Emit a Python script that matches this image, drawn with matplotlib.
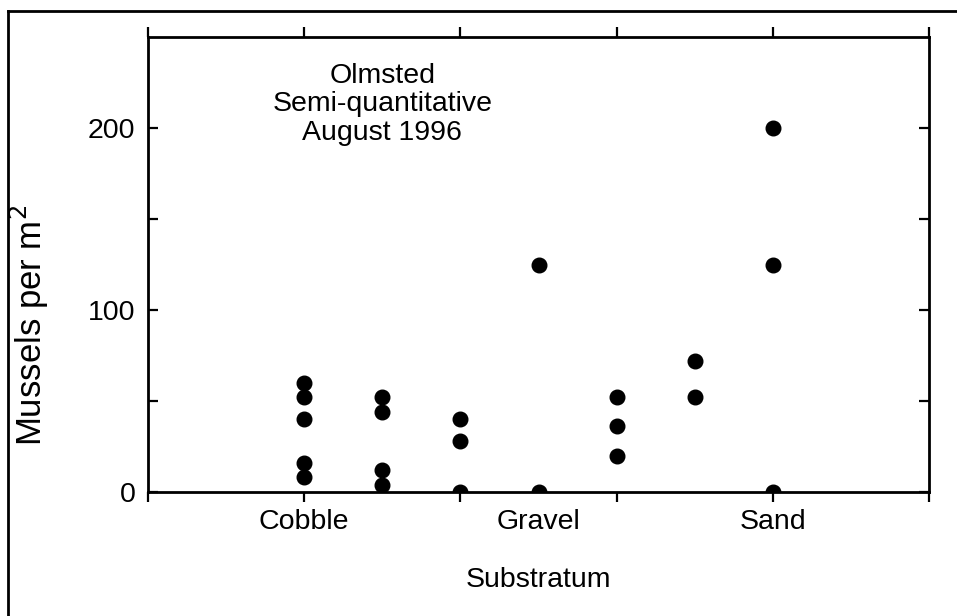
import matplotlib
matplotlib.use("Agg")
import matplotlib.pyplot as plt
from matplotlib.lines import Line2D

# positions along the x axis (0..10) and counts per sample
cobble_x = [2, 2, 2, 2, 2, 3, 3, 3, 3, 4, 4, 4]
cobble_y = [60, 52, 40, 16, 8, 52, 44, 12, 4, 40, 28, 0]
gravel_x = [5, 5, 6, 6, 6, 7, 7]
gravel_y = [125, 0, 52, 36, 20, 72, 52]
sand_x = [8, 8, 8]
sand_y = [200, 125, 0]

category_pos = [2, 5, 8]
category_labels = ["Cobble", "Gravel", "Sand"]
x_ticks = [0, 2, 4, 6, 8, 10]
y_major = [0, 100, 200]
y_minor = [50, 150]

plt.rcParams['font.family'] = ['Liberation Sans', 'DejaVu Sans']
plt.rcParams['font.size'] = 20.5

fig = plt.figure(figsize=(9.57, 6.16), dpi=100)
ax = fig.add_axes([148/957, 1 - 492/616, (929 - 148)/957, (492 - 37)/616])

for xs, ys in [(cobble_x, cobble_y), (gravel_x, gravel_y), (sand_x, sand_y)]:
    ax.plot(xs, ys, 'o', color='black', markersize=10.5, linestyle='none')

ax.set_xlim(0, 10)
ax.set_ylim(0, 250)

# x: unlabeled major ticks, category names as minor labels
ax.xaxis.remove_overlapping_locs = False
ax.set_xticks(x_ticks)
ax.set_xticklabels([])
ax.set_xticks(category_pos, minor=True)
ax.set_xticklabels(category_labels, minor=True)
ax.tick_params(axis='x', which='major', direction='out', length=7, width=1.6,
               top=True, bottom=True)
ax.tick_params(axis='x', which='minor', length=0, pad=12, labelsize=20.5)

ax.set_yticks(y_major)
ax.set_yticks(y_minor, minor=True)
ax.tick_params(axis='y', which='both', direction='in', length=7, width=1.6,
               left=True, right=True, pad=9, labelsize=20.5)

for s in ax.spines.values():
    s.set_linewidth(2.0)

ax.set_xlabel("Substratum", fontsize=20.5, labelpad=23)
fig.text(29/957, 1 - 325/616, "Mussels per m$^2$", rotation=90,
         ha='center', va='center', fontsize=25)

ax.text(3, 213, "Olmsted\nSemi-quantitative\nAugust 1996", ha='center', va='center',
        fontsize=20.5, linespacing=1.12)

# outer frame (only top and left edges visible)
fig.add_artist(Line2D([8/957, 8/957], [0, 1 - 11/616], transform=fig.transFigure,
                      color='black', linewidth=2))
fig.add_artist(Line2D([8/957, 1], [1 - 11/616, 1 - 11/616], transform=fig.transFigure,
                      color='black', linewidth=2))

fig.savefig("out.png", dpi=100)
